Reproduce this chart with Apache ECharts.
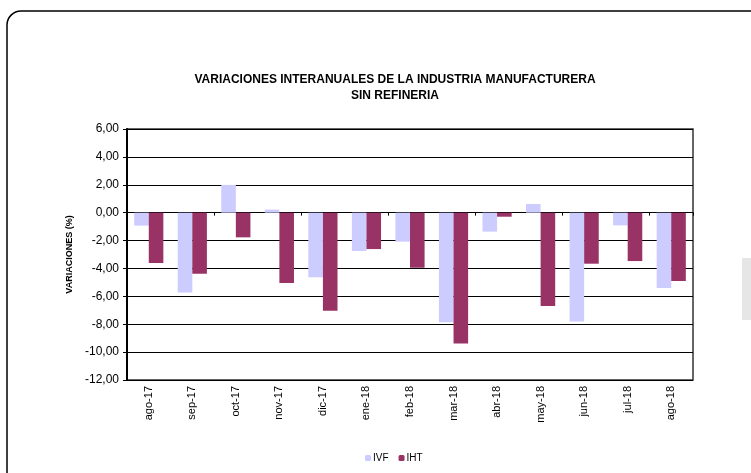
<!DOCTYPE html>
<html>
<head>
<meta charset="utf-8">
<script src="https://cdn.jsdelivr.net/npm/echarts@6/dist/echarts.min.js"></script>
<style>
  html, body { margin: 0; padding: 0; background: #fff; }
  #main { width: 751px; height: 473px; }
</style>
</head>
<body>
<div id="main"></div>
<script>
// datos
var meses = ['ago-17', 'sep-17', 'oct-17', 'nov-17', 'dic-17', 'ene-18', 'feb-18',
             'mar-18', 'abr-18', 'may-18', 'jun-18', 'jul-18', 'ago-18'];
var ivf = [-0.93, -5.72, 1.99, 0.22, -4.64, -2.75, -2.08, -7.85, -1.36, 0.62, -7.80, -0.91, -5.41];
var iht = [-3.61, -4.38, -1.77, -5.05, -7.03, -2.61, -3.95, -9.38, -0.29, -6.70, -3.66, -3.47, -4.90];

var fuente = '"Liberation Sans", Arial, sans-serif';

var myChart = echarts.init(document.getElementById('main'));
myChart.setOption({
    animation: false,
    textStyle: { fontFamily: fuente },
    title: {
        text: 'VARIACIONES INTERANUALES DE LA INDUSTRIA MANUFACTURERA\nSIN REFINERIA',
        left: 390,
        top: 67,
        textAlign: 'center',
        textStyle: { fontSize: 12, fontWeight: 'bold', color: '#000', lineHeight: 16, fontFamily: fuente }
    },
    graphic: [
        {
            type: 'rect',
            shape: { x: 7, y: 11, width: 780, height: 500, r: 14 },
            style: { fill: 'none', stroke: '#000', lineWidth: 1.5 },
            silent: true
        },
        {
            type: 'rect',
            shape: { x: 742, y: 258, width: 20, height: 62 },
            style: { fill: '#e6e6e6' },
            silent: true
        }
    ],
    legend: {
        data: ['IVF', 'IHT'],
        left: 360,
        top: 448,
        itemWidth: 6,
        itemHeight: 6,
        itemGap: 10,
        textStyle: { fontSize: 10, color: '#000', padding: [0, 0, 0, -3] }
    },
    grid: {
        left: 127,
        right: 58,
        top: 129,
        bottom: 93,
        show: true,
        borderColor: '#333',
        borderWidth: 1.5,
        containLabel: false
    },
    xAxis: [
        {
            type: 'category',
            data: meses,
            axisLine: { onZero: true, lineStyle: { color: '#000', width: 1 } },
            axisTick: { show: true, alignWithLabel: false, inside: false, length: 3, lineStyle: { color: '#000' } },
            axisLabel: { show: false }
        },
        {
            type: 'category',
            data: meses,
            position: 'bottom',
            axisLine: { show: false, onZero: false },
            axisTick: { show: false },
            axisLabel: { rotate: 90, fontSize: 11, color: '#000', margin: 6 }
        }
    ],
    yAxis: {
        type: 'value',
        min: -12,
        max: 6,
        interval: 2,
        name: 'VARIACIONES (%)',
        nameLocation: 'middle',
        nameGap: 53,
        nameTextStyle: { fontSize: 9, fontWeight: 'bold', color: '#000' },
        axisLine: { show: true, lineStyle: { color: '#000', width: 2 } },
        axisTick: { show: true, length: 4, lineStyle: { color: '#000' } },
        axisLabel: {
            fontSize: 12,
            color: '#000',
            margin: 8,
            formatter: function (v) { return v.toFixed(2).replace('.', ','); }
        },
        splitLine: { show: true, lineStyle: { color: '#000', width: 1 } }
    },
    series: [
        {
            name: 'IVF',
            type: 'bar',
            data: ivf,
            barGap: '0%',
            barCategoryGap: '33%',
            itemStyle: { color: '#ccccff' }
        },
        {
            name: 'IHT',
            type: 'bar',
            data: iht,
            barGap: '0%',
            barCategoryGap: '33%',
            itemStyle: { color: '#993366' }
        }
    ]
});
</script>
</body>
</html>
